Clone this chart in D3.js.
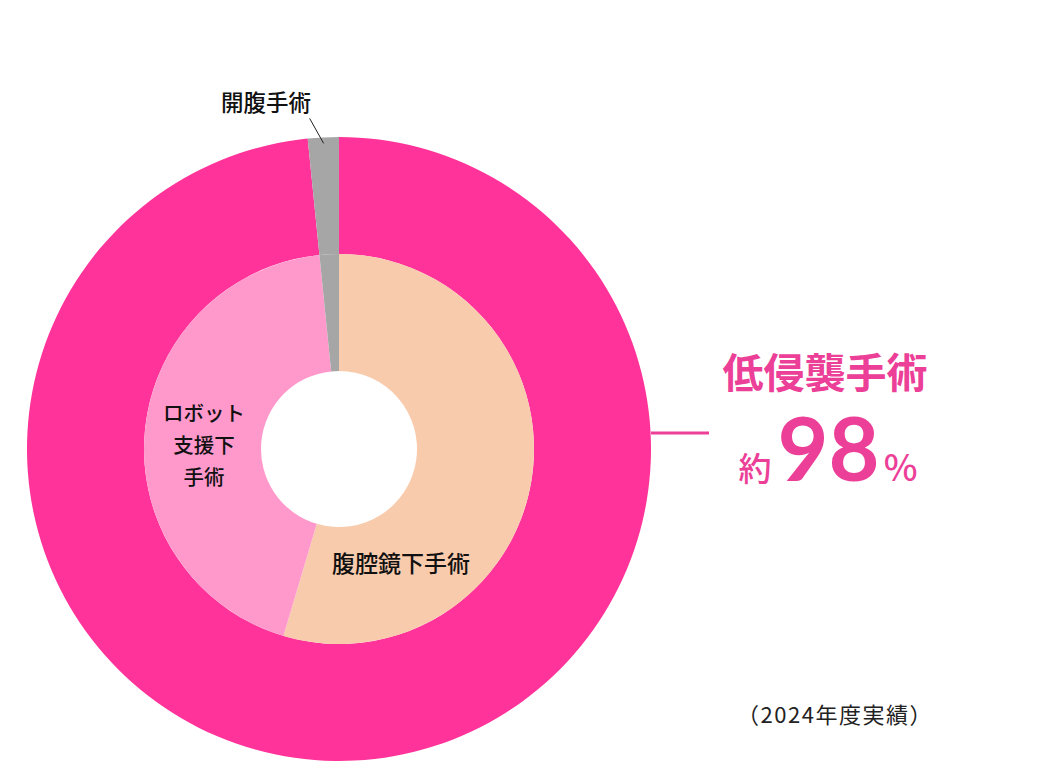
<!DOCTYPE html>
<html>
<head>
<meta charset="utf-8">
<script src="https://cdn.jsdelivr.net/npm/d3@7"></script>
<style>
  body { margin: 0; background: #fff; }
  svg text { font-family: "Noto Sans CJK JP", "Noto Sans", sans-serif; }
</style>
</head>
<body>
<svg id="donut" width="1055" height="777"></svg>
<script>
// outer ring: minimally invasive vs open
const outerLabels = ["低侵襲手術", "開腹手術"];
const outerValues = [98.4, 1.6];
// inner ring: breakdown
const innerLabels = ["腹腔鏡下手術", "ロボット支援下手術", "開腹手術"];
const innerValues = [54.6, 43.8, 1.6];

const outerColors = ["#ff3399", "#a6a6a6"];
const innerColors = ["#f8cbad", "#ff99cc", "#a6a6a6"];

const svg = d3.select("svg#donut");
const cx = 339, cy = 449;
const rOuter = 312, rMid = 195, rHole = 78;
const pink = "#ec3f98";

const pie = d3.pie().sort(null).value(d => d);
const chart = svg.append("g").attr("transform", `translate(${cx}, ${cy})`);

const outerArc = d3.arc().innerRadius(rMid).outerRadius(rOuter);
const innerArc = d3.arc().innerRadius(rHole).outerRadius(rMid);

chart.selectAll("path.outer")
    .data(pie(outerValues))
    .join("path")
    .attr("class", "outer")
    .attr("d", outerArc)
    .attr("fill", (d, i) => outerColors[i]);

chart.selectAll("path.inner")
    .data(pie(innerValues))
    .join("path")
    .attr("class", "inner")
    .attr("d", innerArc)
    .attr("fill", (d, i) => innerColors[i]);

// open surgery label + leader line
const openSlice = pie(outerValues)[1];
const openMid = (openSlice.startAngle + openSlice.endAngle) / 2;
const lineEnd = [Math.sin(openMid) * (rOuter - 6), -Math.cos(openMid) * (rOuter - 6)];
chart.append("line")
    .attr("x1", lineEnd[0] - 14)
    .attr("y1", lineEnd[1] - 25)
    .attr("x2", lineEnd[0])
    .attr("y2", lineEnd[1])
    .attr("stroke", "#222")
    .attr("stroke-width", 1);
chart.append("text")
    .text(outerLabels[1])
    .attr("x", -73)
    .attr("y", -348)
    .attr("text-anchor", "middle")
    .attr("dominant-baseline", "central")
    .attr("font-weight", 500)
    .style("font-size", "22.5px")
    .attr("fill", "#111");

// robot label (three lines)
const robotLines = ["ロボット", "支援下", "手術"];
chart.append("text")
    .attr("text-anchor", "middle")
    .attr("font-weight", 500)
    .style("font-size", "20.5px")
    .attr("fill", "#111")
    .selectAll("tspan")
    .data(robotLines)
    .join("tspan")
    .attr("x", -135)
    .attr("y", (d, i) => -37 + i * 32)
    .attr("dominant-baseline", "central")
    .text(d => d);

// laparoscopic label
chart.append("text")
    .text(innerLabels[0])
    .attr("x", 62)
    .attr("y", 113)
    .attr("text-anchor", "middle")
    .attr("dominant-baseline", "central")
    .attr("font-weight", 500)
    .style("font-size", "23px")
    .attr("fill", "#111");

// callout on the right
chart.append("line")
    .attr("x1", rOuter)
    .attr("x2", rOuter + 58)
    .attr("y1", -16)
    .attr("y2", -16)
    .attr("stroke", pink)
    .attr("stroke-width", 3);

svg.append("text")
    .text(outerLabels[0])
    .attr("x", 825)
    .attr("y", 370)
    .attr("text-anchor", "middle")
    .attr("dominant-baseline", "central")
    .attr("font-weight", 700)
    .style("font-size", "41px")
    .attr("fill", pink);

// "約98%" as three texts laid out side by side
const pctParts = [
    { t: "約", size: 33, weight: 500, gap: 0, font: null },
    { t: String(Math.round(outerValues[0])), size: 88, weight: 700, gap: 6, font: "Lato" },
    { t: "%", size: 36, weight: 500, gap: 4, font: null }
];
const pctNodes = pctParts.map(p => {
    const n = svg.append("text")
        .text(p.t)
        .attr("y", 481)
        .style("font-size", p.size + "px")
        .attr("font-weight", p.weight)
        .attr("fill", pink);
    if (p.font) n.style("font-family", p.font);
    return n;
});
const widths = pctNodes.map(n => n.node().getComputedTextLength());
const total = d3.sum(widths) + d3.sum(pctParts, p => p.gap);
let px = 828 - total / 2;
pctNodes.forEach((n, i) => {
    px += pctParts[i].gap;
    n.attr("x", px);
    px += widths[i];
});

svg.append("text")
    .text("（2024年度実績）")
    .attr("x", 835)
    .attr("y", 713)
    .attr("text-anchor", "middle")
    .attr("dominant-baseline", "central")
    .style("font-size", "22px")
    .style("letter-spacing", "1.5px")
    .attr("fill", "#222");
</script>
</body>
</html>
